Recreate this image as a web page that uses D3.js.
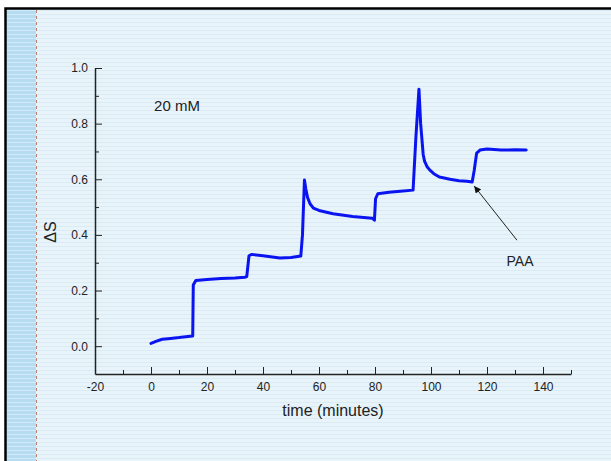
<!DOCTYPE html>
<html>
<head>
  <style>
    body { margin: 0; background: #fff; }
    svg { display: block; font-family: "Liberation Sans", Arial, sans-serif; }
    .axis path, .axis line { stroke: #222; }
    .axis text { fill: #222; font-size: 12px; font-family: "Liberation Sans", Arial, sans-serif; }
  </style>
</head>
<body>
  <script src="https://d3js.org/d3.v7.min.js"></script>
  <script>
    // time (minutes) and ΔS
    const time = [0, 2, 4, 7, 10, 14, 14.9, 15.1, 16, 20, 25, 30, 33.5, 34.2, 35, 36, 40, 44, 46, 50,
      53.5, 54.1, 54.8, 55.3, 55.9, 56.8, 58, 60, 65, 72, 79, 79.8, 80.2, 81, 85, 89,
      93.6, 94.6, 95.7, 96.3, 97.2, 97.7, 98.6, 99.6, 101, 103, 106.8, 110, 112.8, 114.7, 115.4, 116.3, 117.5,
      120, 125, 130, 134];
    const deltaS = [0.01, 0.018, 0.025, 0.028, 0.031, 0.036, 0.037, 0.22, 0.236, 0.24, 0.243, 0.245, 0.248, 0.25, 0.325, 0.33, 0.325, 0.32, 0.317, 0.319,
      0.324, 0.40, 0.597, 0.565, 0.535, 0.512, 0.496, 0.488, 0.476, 0.466, 0.46, 0.453, 0.53, 0.548, 0.553, 0.557,
      0.561, 0.75, 0.924, 0.80, 0.69, 0.665, 0.645, 0.633, 0.62, 0.608, 0.60, 0.595, 0.593, 0.59, 0.63, 0.694, 0.705,
      0.709, 0.705, 0.706, 0.705];

    const xMajor = [-20, 0, 20, 40, 60, 80, 100, 120, 140];
    const xMinor = [-10, 10, 30, 50, 70, 90, 110, 130, 150];
    const yMajor = [0, 0.2, 0.4, 0.6, 0.8, 1.0];
    const yMinor = [0.1, 0.3, 0.5, 0.7, 0.9];

    const concLabel = { t: 1.1, v: 0.845, text: '20 mM' };
    const paa = { label: 'PAA', lt: 131.8, lv: 0.29, t0: 130.7, v0: 0.381, t1: 115.4, v1: 0.576 };

    const width = 611, height = 461;
    const svg = d3.select('body').append('svg')
      .attr('width', width).attr('height', height);

    // background stripes
    const defs = svg.append('defs');
    const bgPat = defs.append('pattern').attr('id', 'bg')
      .attr('width', 4).attr('height', 4).attr('patternUnits', 'userSpaceOnUse');
    bgPat.append('rect').attr('width', 4).attr('height', 4).attr('fill', '#e8f4fa');
    bgPat.append('rect').attr('y', 2).attr('width', 4).attr('height', 1).attr('fill', '#d9ecf6');
    const sidePat = defs.append('pattern').attr('id', 'side')
      .attr('width', 4).attr('height', 4).attr('patternUnits', 'userSpaceOnUse');
    sidePat.append('rect').attr('width', 4).attr('height', 4).attr('fill', '#b6dcf1');
    sidePat.append('rect').attr('y', 2).attr('width', 4).attr('height', 1).attr('fill', '#d2eaf7');
    defs.append('marker').attr('id', 'arrow')
      .attr('viewBox', '0 0 10 10').attr('refX', 10).attr('refY', 5)
      .attr('markerWidth', 9).attr('markerHeight', 7).attr('markerUnits', 'userSpaceOnUse')
      .attr('orient', 'auto')
      .append('path').attr('d', 'M0,0 L10,5 L0,10 Z').attr('fill', '#111');

    svg.append('rect').attr('x', 5).attr('y', 8).attr('width', width - 5).attr('height', height - 8)
      .attr('fill', 'url(#bg)');
    svg.append('rect').attr('x', 5).attr('y', 8).attr('width', 31).attr('height', height - 8)
      .attr('fill', 'url(#side)');
    svg.append('line').attr('x1', 36.5).attr('x2', 36.5).attr('y1', 10).attr('y2', height)
      .attr('stroke', '#c0806e').attr('stroke-width', 1).attr('stroke-dasharray', '3,3');
    svg.append('path').attr('d', `M5.5,${height} L5.5,8.5 L${width},8.5`)
      .attr('fill', 'none').attr('stroke', '#000').attr('stroke-width', 2.5);

    const x = d3.scaleLinear().domain([-20, 150]).range([95, 571]);
    const y = d3.scaleLinear().domain([-0.1, 1.0]).range([374, 68]);

    // minor ticks
    svg.append('g').attr('class', 'axis').attr('transform', 'translate(0,374)')
      .call(d3.axisBottom(x).tickValues(xMinor).tickSizeInner(-4).tickSizeOuter(0).tickFormat(''))
      .call(g => g.select('.domain').remove());
    svg.append('g').attr('class', 'axis').attr('transform', 'translate(95,0)')
      .call(d3.axisLeft(y).tickValues(yMinor).tickSizeInner(-4).tickSizeOuter(0).tickFormat(''))
      .call(g => g.select('.domain').remove());

    // major axes
    svg.append('g').attr('class', 'axis').attr('transform', 'translate(0,374)')
      .call(d3.axisBottom(x).tickValues(xMajor).tickSizeInner(-7).tickSizeOuter(0).tickPadding(8).tickFormat(d => String(d)))
      .call(g => g.select('.domain').attr('stroke-width', 1.5));
    svg.append('g').attr('class', 'axis').attr('transform', 'translate(95,0)')
      .call(d3.axisLeft(y).tickValues(yMajor).tickSizeInner(-7).tickSizeOuter(0).tickPadding(7).tickFormat(d => d.toFixed(1)))
      .call(g => g.select('.domain').attr('stroke-width', 1.5));

    // axis titles
    svg.append('text').attr('x', 333).attr('y', 416).attr('text-anchor', 'middle')
      .attr('font-size', 16).attr('fill', '#222').text('time (minutes)');
    svg.append('text').attr('transform', 'translate(56,232) rotate(-90)').attr('text-anchor', 'middle')
      .attr('font-size', 16).attr('fill', '#222').text('ΔS');

    // trace
    const pts = time.map((t, i) => [t, deltaS[i]]);
    svg.append('path').datum(pts)
      .attr('fill', 'none').attr('stroke', '#0a14f0').attr('stroke-width', 3)
      .attr('stroke-linejoin', 'round').attr('stroke-linecap', 'round')
      .attr('d', d3.line().x(d => x(d[0])).y(d => y(d[1])));

    // annotations
    svg.append('text').attr('x', x(concLabel.t)).attr('y', y(concLabel.v))
      .attr('font-size', 15).attr('fill', '#222').text(concLabel.text);
    svg.append('line')
      .attr('x1', x(paa.t0)).attr('y1', y(paa.v0)).attr('x2', x(paa.t1)).attr('y2', y(paa.v1))
      .attr('stroke', '#222').attr('stroke-width', 1).attr('marker-end', 'url(#arrow)');
    svg.append('text').attr('x', x(paa.lt)).attr('y', y(paa.lv)).attr('text-anchor', 'middle')
      .attr('font-size', 14).attr('fill', '#222').text(paa.label);
  </script>
</body>
</html>
